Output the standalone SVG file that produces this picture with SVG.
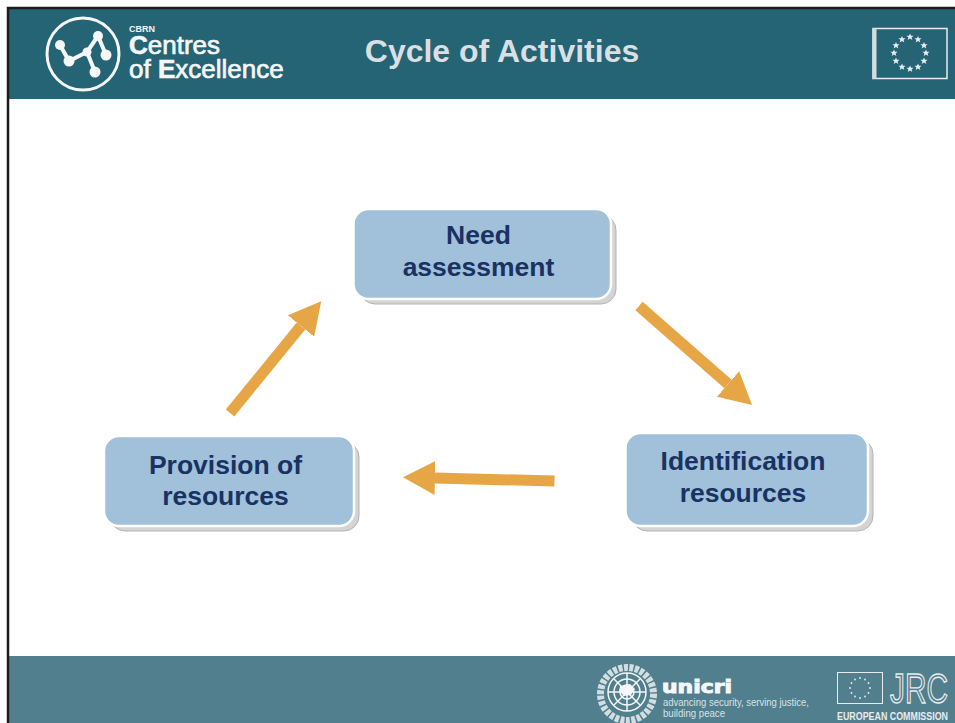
<svg xmlns="http://www.w3.org/2000/svg" xmlns:xlink="http://www.w3.org/1999/xlink" width="955" height="723" viewBox="0 0 955 723">
<style>
text{font-family:"Liberation Sans",Arial,sans-serif}
.lbl{font-size:26.5px;font-weight:700;fill:#1a3263;text-anchor:middle}
.shadow{fill:#d4d4d4;stroke:#b4b4b4;stroke-width:1}
.box{fill:#a0c1d9;stroke:#fff;stroke-width:2.5}
.arrow{stroke:#e7a646;stroke-width:11;fill:none;marker-end:url(#head)}
.wht{fill:#f4f6f7}
.ln{stroke:#f4f6f7;fill:none}
</style>
<defs>
<marker id="head" markerUnits="userSpaceOnUse" markerWidth="32" markerHeight="34" refX="0" refY="17" orient="auto"><polygon points="0,0 32,17 0,34" fill="#e7a646"/></marker>
<polygon id="s" points="0,-3.500 1,-1.200 3.500,-1.200 1.600,.5 2.300,3 0,1.600 -2.300,3 -1.600,.5 -3.500,-1.200 -1,-1.200"/>
</defs>
<rect width="955" height="723" fill="#fff"/>
<rect id="header-band" x="9" y="9" width="946" height="90" fill="#246474"/>
<rect id="footer-band" x="9" y="656" width="946" height="67" fill="#527f8e"/>
<path d="M8 723V8H955" fill="none" stroke="#1c1c1c" stroke-width="2.500"/>

<g id="logo">
<circle cx="83" cy="54" r="36" fill="none" stroke="#f4f6f7" stroke-width="3"/>
<path class="ln" stroke-width="4" d="M60 45L69 61L87 52L98 36L106 55M87 52L95 72"/>
<g class="wht"><circle cx="60" cy="45" r="5"/><circle cx="69" cy="61" r="5.500"/><circle cx="87" cy="52" r="4.500"/><circle cx="98" cy="36" r="5"/><circle cx="106" cy="55" r="5.500"/><circle cx="95" cy="72" r="5.500"/></g>
<text x="129" y="31.500" font-size="9" font-weight="700" class="wht">CBRN</text>
<text x="129" y="54" font-size="26" class="wht" stroke="#f4f6f7" stroke-width=".7"><tspan font-weight="700">C</tspan>entres</text>
<text x="129" y="78" font-size="26" class="wht" stroke="#f4f6f7" stroke-width=".7">of <tspan font-weight="700">E</tspan>xcellence</text>
</g>

<text id="title" x="502" y="62" font-size="32" font-weight="700" fill="#d9dfe2" text-anchor="middle">Cycle of Activities</text>

<g id="eu-flag">
<rect x="873" y="28.500" width="74" height="50" fill="none" stroke="#e8eced" stroke-width="1.500"/>
<rect x="872.500" y="28" width="4" height="51" fill="#d6dcde"/>
<g fill="#e8eced">
<use xlink:href="#s" href="#s" x="910" y="37"/><use xlink:href="#s" href="#s" x="918" y="39.500"/><use xlink:href="#s" href="#s" x="924" y="45.500"/><use xlink:href="#s" href="#s" x="926" y="53"/><use xlink:href="#s" href="#s" x="924" y="61"/><use xlink:href="#s" href="#s" x="918" y="67"/><use xlink:href="#s" href="#s" x="910" y="69"/><use xlink:href="#s" href="#s" x="902" y="67"/><use xlink:href="#s" href="#s" x="896" y="61"/><use xlink:href="#s" href="#s" x="894" y="53"/><use xlink:href="#s" href="#s" x="896" y="45.500"/><use xlink:href="#s" href="#s" x="902" y="39.500"/>
</g>
</g>

<g id="connectors">
<line class="arrow" x1="639" y1="306" x2="728" y2="384"/>
<line class="arrow" x1="554.500" y1="481" x2="435" y2="478"/>
<line class="arrow" x1="230" y1="413" x2="301" y2="326"/>
</g>

<g id="node-need">
<rect class="shadow" x="360" y="215" width="256" height="89" rx="15"/>
<rect class="box" x="353.500" y="209" width="257.500" height="90" rx="15"/>
<text class="lbl" x="478.500" y="244">Need</text>
<text class="lbl" x="478.500" y="276">assessment</text>
</g>
<g id="node-identification">
<rect class="shadow" x="632" y="439" width="241" height="92" rx="15"/>
<rect class="box" x="625.500" y="433" width="242.500" height="93" rx="15"/>
<text class="lbl" x="743" y="470">Identification</text>
<text class="lbl" x="743" y="502">resources</text>
</g>
<g id="node-provision">
<rect class="shadow" x="110" y="442" width="249" height="89" rx="15"/>
<rect class="box" x="104" y="436" width="250" height="90" rx="15"/>
<text class="lbl" x="225.500" y="474">Provision of</text>
<text class="lbl" x="225.500" y="505">resources</text>
</g>

<g id="un-emblem" class="ln">
<circle cx="627" cy="694" r="26.500" stroke-width="7" stroke-dasharray="4 1.500" opacity=".8"/>
<circle cx="627" cy="692" r="19" stroke-width="1.500"/>
<circle cx="627" cy="692" r="13" stroke-width="1.500"/>
<circle cx="627" cy="692" r="7" stroke-width="1.500"/>
<path stroke-width="1.500" d="M627 673V711M608 692H646M614 679L640 705M640 679L614 705"/>
<path d="M620 686l10 -2l5 5l-4 6l-7 1l-5-5z" fill="#f4f6f7" stroke="none"/>
</g>

<g id="unicri">
<text x="662" y="693" font-size="18" font-weight="700" style="font-family:'DejaVu Sans',sans-serif" class="wht" stroke="#f4f6f7" stroke-width="1" textLength="70" lengthAdjust="spacingAndGlyphs">unicri</text>
<text x="663" y="706" font-size="10" fill="#d8e2e6" textLength="146" lengthAdjust="spacingAndGlyphs">advancing security, serving justice,</text>
<text x="663" y="717" font-size="10" fill="#d8e2e6" textLength="62" lengthAdjust="spacingAndGlyphs">building peace</text>
</g>

<g id="jrc">
<rect x="837.500" y="672.500" width="45" height="31" fill="none" stroke="#e8eced" stroke-width="1"/>
<g fill="#e8eced">
<circle cx="860" cy="678" r=".9"/><circle cx="865" cy="679.500" r=".9"/><circle cx="868.500" cy="683" r=".9"/><circle cx="870" cy="688" r=".9"/><circle cx="868.500" cy="693" r=".9"/><circle cx="865" cy="696.500" r=".9"/><circle cx="860" cy="698" r=".9"/><circle cx="855" cy="696.500" r=".9"/><circle cx="851.500" cy="693" r=".9"/><circle cx="850" cy="688" r=".9"/><circle cx="851.500" cy="683" r=".9"/><circle cx="855" cy="679.500" r=".9"/>
</g>
<text x="890" y="703" font-size="42" fill="none" stroke="#e8eced" stroke-width="1.400" textLength="58" lengthAdjust="spacingAndGlyphs">JRC</text>
<text x="837" y="720" font-size="10" font-weight="700" fill="#e8eced" textLength="111" lengthAdjust="spacingAndGlyphs">EUROPEAN COMMISSION</text>
</g>
</svg>
